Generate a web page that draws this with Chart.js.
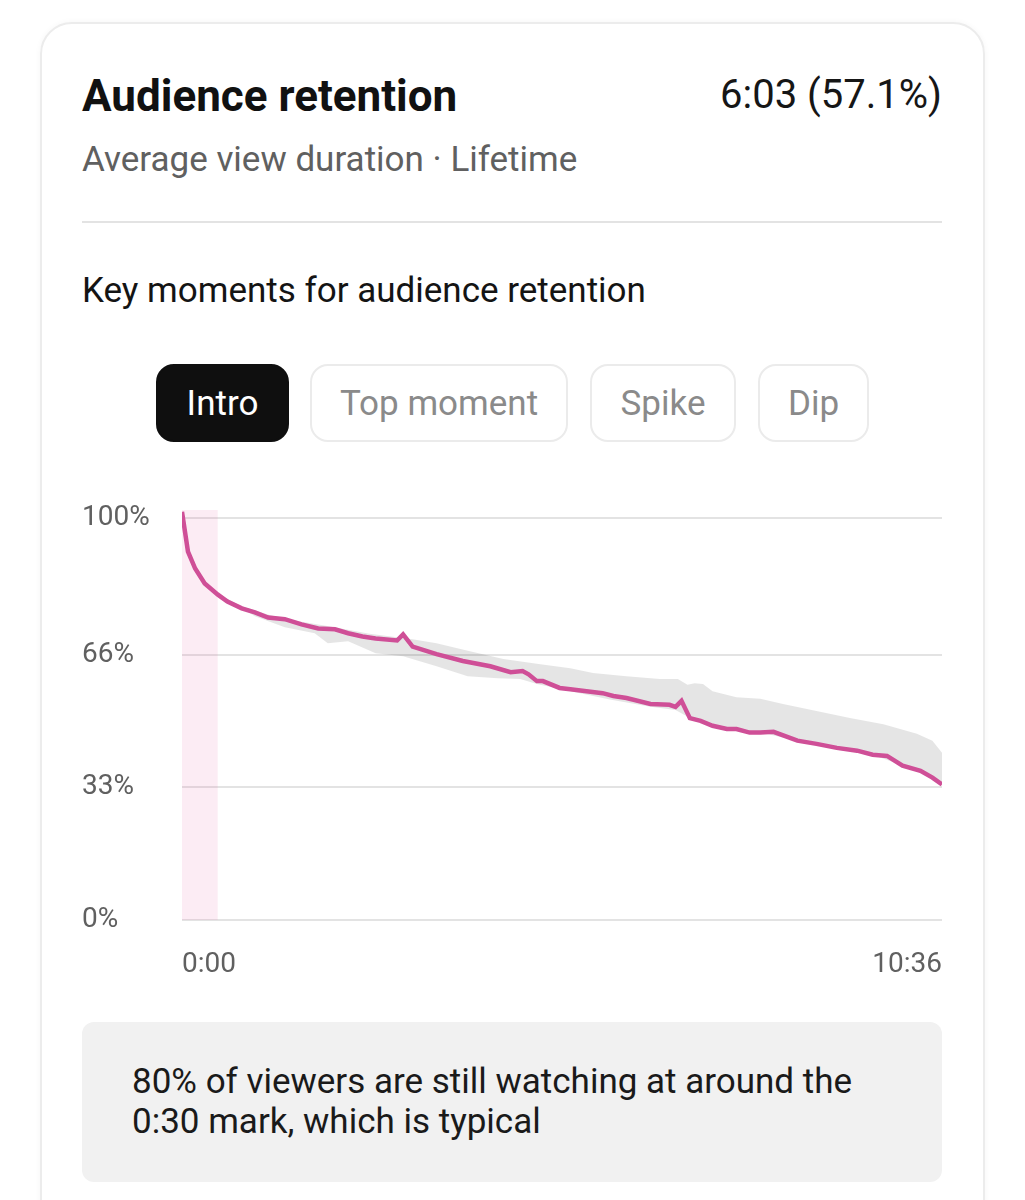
<!DOCTYPE html>
<html>
<head>
<meta charset="utf-8">
<script src="https://cdn.jsdelivr.net/npm/chart.js@4.4.1/dist/chart.umd.min.js"></script>
<style>
  html, body { margin: 0; padding: 0; background: #fff; }
  body { width: 1025px; height: 1200px; position: relative; overflow: hidden; font-family: Roboto, "Noto Sans", sans-serif; }
  .card { position: absolute; left: 40px; top: 22px; width: 941px; height: 1240px; border: 2px solid #ececec; border-radius: 32px; box-shadow: 0 0 6px rgba(0,0,0,0.04); }
  .abs { position: absolute; white-space: nowrap; }
  .title { left: 82px; top: 70px; font-size: 44px; font-weight: 700; color: #111; }
  .value { right: 83px; top: 71px; font-size: 40px; color: #161616; }
  .sub { left: 82px; top: 139px; font-size: 35px; color: #606060; }
  .rule { position: absolute; left: 82px; top: 221px; width: 860px; height: 2px; background: #e3e3e3; }
  .key { left: 82px; top: 270px; font-size: 35px; color: #141414; }
  .btn { position: absolute; top: 364px; height: 78px; box-sizing: border-box; border: 2px solid #ebebeb; border-radius: 18px; font-size: 35px; color: #8a8a8a; display: flex; align-items: center; justify-content: center; }
  .btn.on { background: #0f0f0f; border-color: #0f0f0f; color: #fff; }
  #wrap { position: absolute; left: 82px; top: 490px; width: 860px; height: 500px; }
  .note { position: absolute; left: 82px; top: 1022px; width: 860px; height: 160px; background: #f1f1f1; border-radius: 12px; }
  .note p { margin: 0; position: absolute; left: 50px; top: 40px; font-size: 35px; line-height: 40px; color: #1a1a1a; }
</style>
</head>
<body>
<div class="card"></div>
<div class="abs title">Audience retention</div>
<div class="abs value">6:03 (57.1%)</div>
<div class="abs sub">Average view duration · Lifetime</div>
<div class="rule"></div>
<div class="abs key">Key moments for audience retention</div>
<div class="btn on" style="left:156px;width:133px;">Intro</div>
<div class="btn" style="left:310px;width:258px;">Top moment</div>
<div class="btn" style="left:590px;width:146px;">Spike</div>
<div class="btn" style="left:758px;width:111px;">Dip</div>
<div id="wrap"><canvas id="chart"></canvas></div>
<div class="note"><p>80% of viewers are still watching at around the<br>0:30 mark, which is typical</p></div>
<script>
// seconds into the video
const videoLength = 636;
const introEnd = 30;
const yTicks = [0, 33, 66, 100];

// this video's retention (% of viewers)
const retentionTime = [0, 5, 11, 19, 30, 38, 50, 61, 72, 86, 100, 114, 128, 139, 151, 162, 180, 185, 193, 213, 235, 258, 275, 285, 290, 297, 302, 316, 325, 352, 361, 372, 392, 408, 413, 418, 425, 434, 444, 456, 464, 475, 484, 495, 515, 531, 548, 565, 578, 590, 603, 618, 628, 636];
const retention = [101.5, 91.6, 87.4, 83.7, 80.9, 79.2, 77.5, 76.5, 75.2, 74.8, 73.5, 72.5, 72.3, 71.3, 70.5, 70.0, 69.5, 71.0, 68.0, 66.1, 64.4, 63.1, 61.6, 61.9, 61.1, 59.4, 59.4, 57.7, 57.4, 56.4, 55.7, 55.2, 53.7, 53.5, 53.0, 54.5, 50.2, 49.5, 48.3, 47.5, 47.5, 46.6, 46.6, 46.8, 44.6, 43.8, 42.8, 42.1, 41.1, 40.8, 38.4, 37.1, 35.4, 33.7];

// typical range for similar videos
const typicalUpperTime = [34, 50, 74, 99, 124, 157, 193, 213, 241, 269, 300, 325, 344, 372, 400, 415, 423, 429, 436, 444, 464, 484, 503, 531, 559, 587, 615, 628, 636];
const typicalUpper = [80.5, 78.0, 75.8, 74.2, 73.0, 71.2, 69.8, 68.8, 66.8, 64.9, 63.6, 62.6, 61.4, 60.6, 59.9, 59.9, 58.5, 58.9, 58.7, 56.9, 55.4, 55.0, 53.7, 52.0, 50.2, 48.7, 46.3, 44.6, 41.6];
const typicalLowerTime = [34, 61, 86, 111, 122, 139, 162, 185, 213, 239, 264, 283, 297, 325, 358, 392, 413, 425, 444, 464, 484, 515, 548, 578, 603, 628, 636];
const typicalLower = [80.3, 75.5, 72.8, 71.3, 68.8, 69.3, 66.3, 65.6, 63.1, 60.6, 60.1, 59.9, 58.7, 56.9, 54.8, 53.0, 52.2, 50.2, 48.3, 47.5, 46.6, 44.6, 42.8, 41.1, 38.4, 35.4, 33.7];

const pts = (xs, ys) => xs.map((x, i) => ({ x: x, y: ys[i] }));
const fmtTime = s => Math.floor(s / 60) + ':' + String(s % 60).padStart(2, '0');

new Chart(document.getElementById('chart'), {
    type: 'line',
    data: {
        datasets: [{
            data: pts(retentionTime, retention),
            borderColor: '#cf4f97',
            borderWidth: 4.5,
            pointRadius: 0,
            tension: 0,
            fill: false
        }, {
            data: pts(typicalUpperTime, typicalUpper),
            borderWidth: 0,
            pointRadius: 0,
            fill: false
        }, {
            data: pts(typicalLowerTime, typicalLower),
            borderWidth: 0,
            pointRadius: 0,
            backgroundColor: 'rgba(0, 0, 0, 0.1)',
            fill: '-1'
        }, {
            data: [{ x: 0, y: 102 }, { x: introEnd, y: 102 }],
            borderWidth: 0,
            pointRadius: 0,
            backgroundColor: 'rgba(232, 110, 170, 0.13)',
            fill: 'origin'
        }]
    },
    options: {
        responsive: true,
        maintainAspectRatio: false,
        animation: false,
        layout: { padding: 0 },
        plugins: { legend: { display: false }, tooltip: { enabled: false } },
        scales: {
            x: {
                type: 'linear',
                min: 0,
                max: videoLength,
                grid: { display: false },
                border: { display: false },
                afterBuildTicks: axis => { axis.ticks = [{ value: 0 }, { value: videoLength }]; },
                afterFit: axis => { axis.height = 70; axis.paddingLeft = 0; axis.paddingRight = 0; },
                ticks: {
                    align: 'inner',
                    padding: 20,
                    maxRotation: 0,
                    color: '#606060',
                    font: { family: 'Roboto', size: 28 },
                    callback: v => fmtTime(v)
                }
            },
            y: {
                min: 0,
                max: 102,
                afterFit: axis => { axis.width = 100; },
                afterBuildTicks: axis => { axis.ticks = yTicks.map(v => ({ value: v })); },
                grid: { color: '#e3e3e3', lineWidth: 2, drawTicks: false },
                border: { display: false },
                ticks: {
                    crossAlign: 'far',
                    color: '#606060',
                    font: { family: 'Roboto', size: 28 },
                    callback: v => v + '%'
                }
            }
        }
    }
});
</script>
</body>
</html>
